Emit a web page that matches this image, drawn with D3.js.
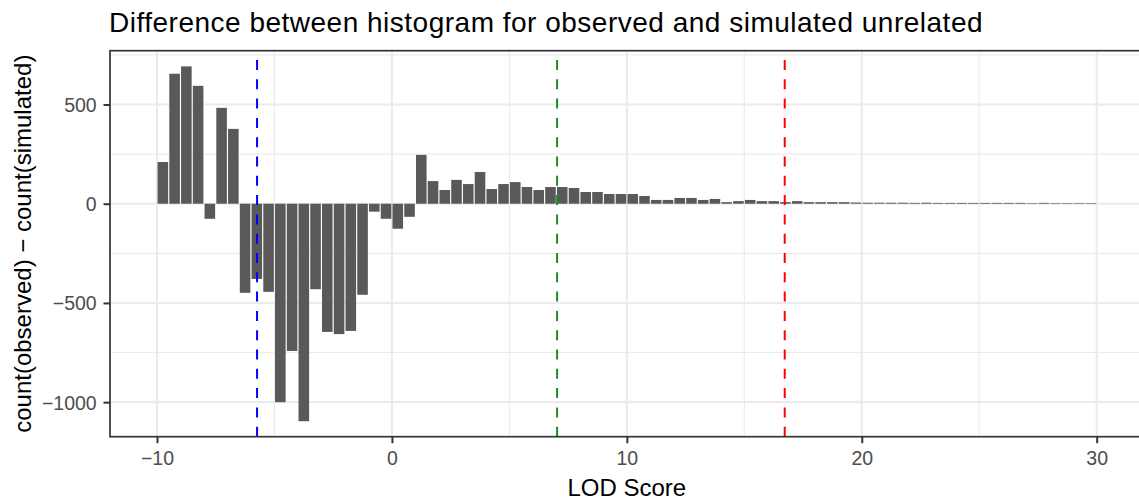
<!DOCTYPE html>
<html>
<head>
<meta charset="utf-8">
<script src="https://cdn.jsdelivr.net/npm/d3@7"></script>
<style>
  body { margin: 0; background: #fff; }
  text { font-family: "Liberation Sans", Arial, sans-serif; }
</style>
</head>
<body>
<div id="chart"></div>
<script>
// bin centres of the LOD histogram (bin width 0.5)
var lodBins = [
  -9.75, -9.25, -8.75, -8.25, -7.75, -7.25, -6.75, -6.25, -5.75, -5.25,
  -4.75, -4.25, -3.75, -3.25, -2.75, -2.25, -1.75, -1.25, -0.75, -0.25,
  0.25, 0.75, 1.25, 1.75, 2.25, 2.75, 3.25, 3.75, 4.25, 4.75,
  5.25, 5.75, 6.25, 6.75, 7.25, 7.75, 8.25, 8.75, 9.25, 9.75,
  10.25, 10.75, 11.25, 11.75, 12.25, 12.75, 13.25, 13.75, 14.25, 14.75,
  15.25, 15.75, 16.25, 16.75, 17.25, 17.75, 18.25, 18.75, 19.25, 19.75,
  20.25, 20.75, 21.25, 21.75, 22.25, 22.75, 23.25, 23.75, 24.25, 24.75,
  25.25, 25.75, 26.25, 26.75, 27.25, 27.75, 28.25, 28.75, 29.25, 29.75
];

// count(observed) - count(simulated)
var countDiff = [
  210, 655, 692, 594, -76, 483, 377, -449, -379, -444,
  -1000, -742, -1096, -431, -646, -657, -641, -459, -40, -76,
  -126, -66, 246, 114, 69, 120, 99, 160, 74, 99,
  109, 84, 69, 84, 84, 79, 59, 59, 49, 49,
  49, 39, 19, 19, 29, 29, 19, 24, 8, 13,
  19, 13, 13, 8, 13, 8, 8, 8, 8, 6,
  5, 5, 5, 5, 4, 5, 4, 4, 4, 4,
  4, 4, 4, 4, 3, 4, 3, 3, 3, 3
];

var binWidth = 0.5;

// threshold lines
var cutoffValues = [-5.74, 7.03, 16.72];
var cutoffColors = ["#0000ff", "#228b22", "#ff0000"];

var xTicks = [-10, 0, 10, 20, 30];
var xMinor = [-5, 5, 15, 25];
var yTicks = [-1000, -500, 0, 500];
var yMinor = [-750, -250, 250, 750];

var data = lodBins.map(function (d, i) {
  return {lod: d, diff: countDiff[i]};
});

var W = 1139, H = 503;
var panel = {left: 110, top: 50.7, right: 1143.7, bottom: 436.7};

var svg = d3.select("#chart").append("svg")
  .attr("width", W)
  .attr("height", H);

var x = d3.scaleLinear()
  .domain([-12, 32])
  .range([panel.left, panel.right]);

var y = d3.scaleLinear()
  .domain([-1174, 771])
  .range([panel.bottom, panel.top]);

// grid
var grid = svg.append("g");
grid.selectAll(".xminor").data(xMinor).enter().append("line")
  .attr("x1", function (d) { return x(d); })
  .attr("x2", function (d) { return x(d); })
  .attr("y1", panel.top).attr("y2", panel.bottom)
  .attr("stroke", "#ebebeb").attr("stroke-width", 1.1);
grid.selectAll(".yminor").data(yMinor).enter().append("line")
  .attr("y1", function (d) { return y(d); })
  .attr("y2", function (d) { return y(d); })
  .attr("x1", panel.left).attr("x2", panel.right)
  .attr("stroke", "#ebebeb").attr("stroke-width", 1.1);
grid.selectAll(".xmajor").data(xTicks).enter().append("line")
  .attr("x1", function (d) { return x(d); })
  .attr("x2", function (d) { return x(d); })
  .attr("y1", panel.top).attr("y2", panel.bottom)
  .attr("stroke", "#ebebeb").attr("stroke-width", 2.1);
grid.selectAll(".ymajor").data(yTicks).enter().append("line")
  .attr("y1", function (d) { return y(d); })
  .attr("y2", function (d) { return y(d); })
  .attr("x1", panel.left).attr("x2", panel.right)
  .attr("stroke", "#ebebeb").attr("stroke-width", 2.1);

// bars (geom_col width 0.9 of bin)
svg.append("g").selectAll("rect").data(data).enter().append("rect")
  .attr("x", function (d) { return x(d.lod - binWidth * 0.45); })
  .attr("width", function (d) { return x(d.lod + binWidth * 0.45) - x(d.lod - binWidth * 0.45); })
  .attr("y", function (d) { return y(Math.max(0, d.diff)); })
  .attr("height", function (d) { return Math.abs(y(d.diff) - y(0)); })
  .attr("fill", "#595959");

// dashed vertical cut-offs, drawn from bottom up like ggplot
svg.append("g").selectAll("line").data(cutoffValues).enter().append("line")
  .attr("x1", function (d) { return x(d); })
  .attr("x2", function (d) { return x(d); })
  .attr("y1", panel.bottom).attr("y2", panel.top)
  .attr("stroke", function (d, i) { return cutoffColors[i]; })
  .attr("stroke-width", 2)
  .attr("stroke-dasharray", "10,9.3");

// panel border
svg.append("rect")
  .attr("x", panel.left).attr("y", panel.top)
  .attr("width", panel.right - panel.left)
  .attr("height", panel.bottom - panel.top)
  .attr("fill", "none")
  .attr("stroke", "#333333")
  .attr("stroke-width", 1.7);

// axes
var fmt = function (d) { return d < 0 ? "\u2212" + Math.abs(d) : d; };
var xAxis = d3.axisBottom(x).tickValues(xTicks).tickSize(6.5).tickPadding(3).tickFormat(fmt);
var yAxis = d3.axisLeft(y).tickValues(yTicks).tickSize(6.5).tickPadding(6.8).tickFormat(fmt);

var gx = svg.append("g")
  .attr("transform", "translate(0," + panel.bottom + ")")
  .call(xAxis);
var gy = svg.append("g")
  .attr("transform", "translate(" + panel.left + ",0)")
  .call(yAxis);

[gx, gy].forEach(function (g) {
  g.select(".domain").remove();
  g.selectAll(".tick line").attr("stroke", "#333333").attr("stroke-width", 2);
  g.selectAll(".tick text")
    .attr("fill", "#4d4d4d")
    .style("font-size", "19.5px")
    .style("font-family", "'Liberation Sans', Arial, sans-serif");
});
gx.selectAll(".tick text").attr("dy", "0.95em");
gy.selectAll(".tick text").attr("dy", "0.36em");

// titles
svg.append("text")
  .attr("x", 109)
  .attr("y", 32)
  .style("font-size", "28px")
  .style("letter-spacing", "0.5px")
  .attr("fill", "#000")
  .text("Difference between histogram for observed and simulated unrelated");

svg.append("text")
  .attr("x", (panel.left + panel.right) / 2)
  .attr("y", 496)
  .attr("text-anchor", "middle")
  .style("font-size", "24px")
  .attr("fill", "#000")
  .text("LOD Score");

svg.append("text")
  .attr("transform", "translate(31," + (panel.top + panel.bottom) / 2 + ") rotate(-90)")
  .attr("text-anchor", "middle")
  .style("font-size", "24px")
  .attr("fill", "#000")
  .text("count(observed) \u2212 count(simulated)");
</script>
</body>
</html>
